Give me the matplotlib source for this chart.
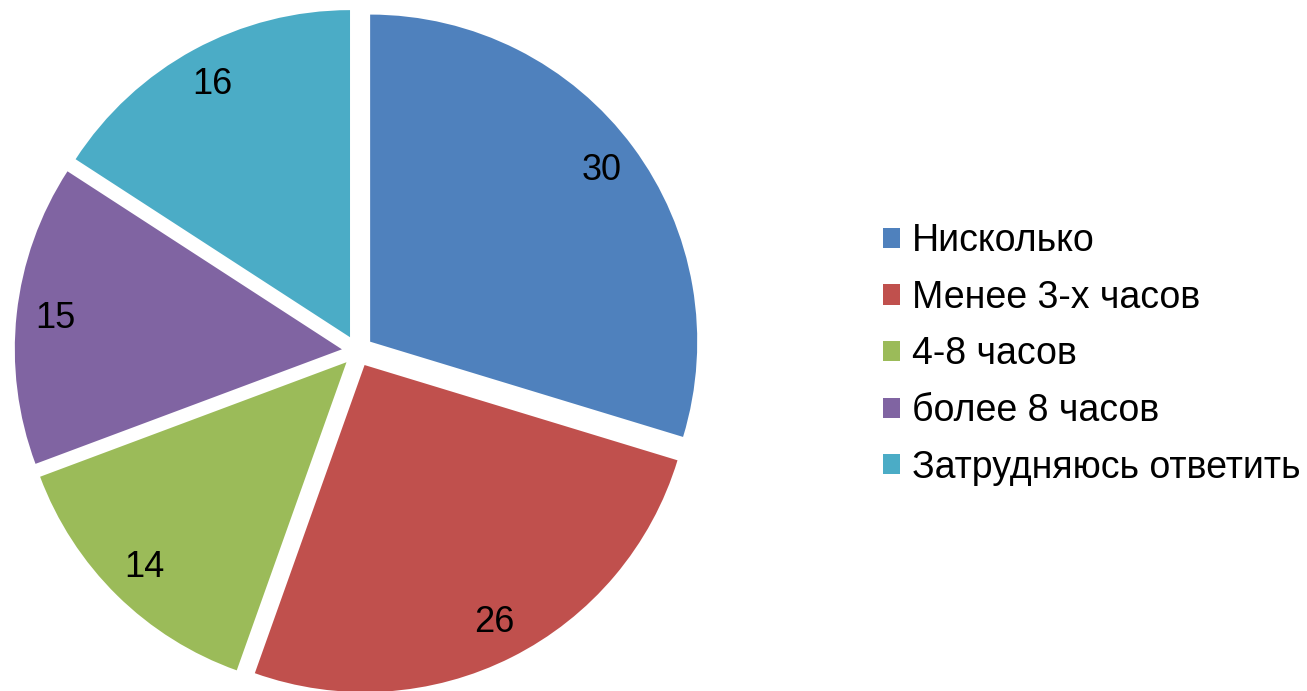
import matplotlib.pyplot as plt

plt.rcParams['font.family'] = ['Liberation Sans', 'DejaVu Sans']

# data
categories = ['Нисколько', 'Менее 3-х часов', '4-8 часов', 'более 8 часов', 'Затрудняюсь ответить']
values = [30, 26, 14, 15, 16]
colors = ['#4F81BD', '#C0504D', '#9BBB59', '#8064A2', '#4BACC6']

total = sum(values)

fig = plt.figure(figsize=(13.07, 6.91), dpi=100)
fig.patch.set_facecolor('white')

# pie area (radius ~327 px, centre ~ (357, 351) px)
ax = fig.add_axes([0.00574, -0.0145, 0.5356, 1.013])
wedges, texts, autotexts = ax.pie(
    values,
    colors=colors,
    startangle=90,
    counterclock=False,
    explode=[0.048] * len(values),
    autopct=lambda p: f'{p * total / 100:.0f}',
    pctdistance=0.88,
    wedgeprops=dict(linewidth=0),
    textprops=dict(fontsize=26, color='black'),
)
ax.set_xlim(-1.07, 1.07)
ax.set_ylim(-1.07, 1.07)
ax.set_aspect('equal')
ax.axis('off')

#legend
fig.legend(wedges, categories, loc='center left', bbox_to_anchor=(0.6496, 0.487),
           frameon=False, fontsize=27, handlelength=0.45, handleheight=0.45,
           handletextpad=0.32, labelspacing=0.55)

plt.savefig('out.png', dpi=100)
